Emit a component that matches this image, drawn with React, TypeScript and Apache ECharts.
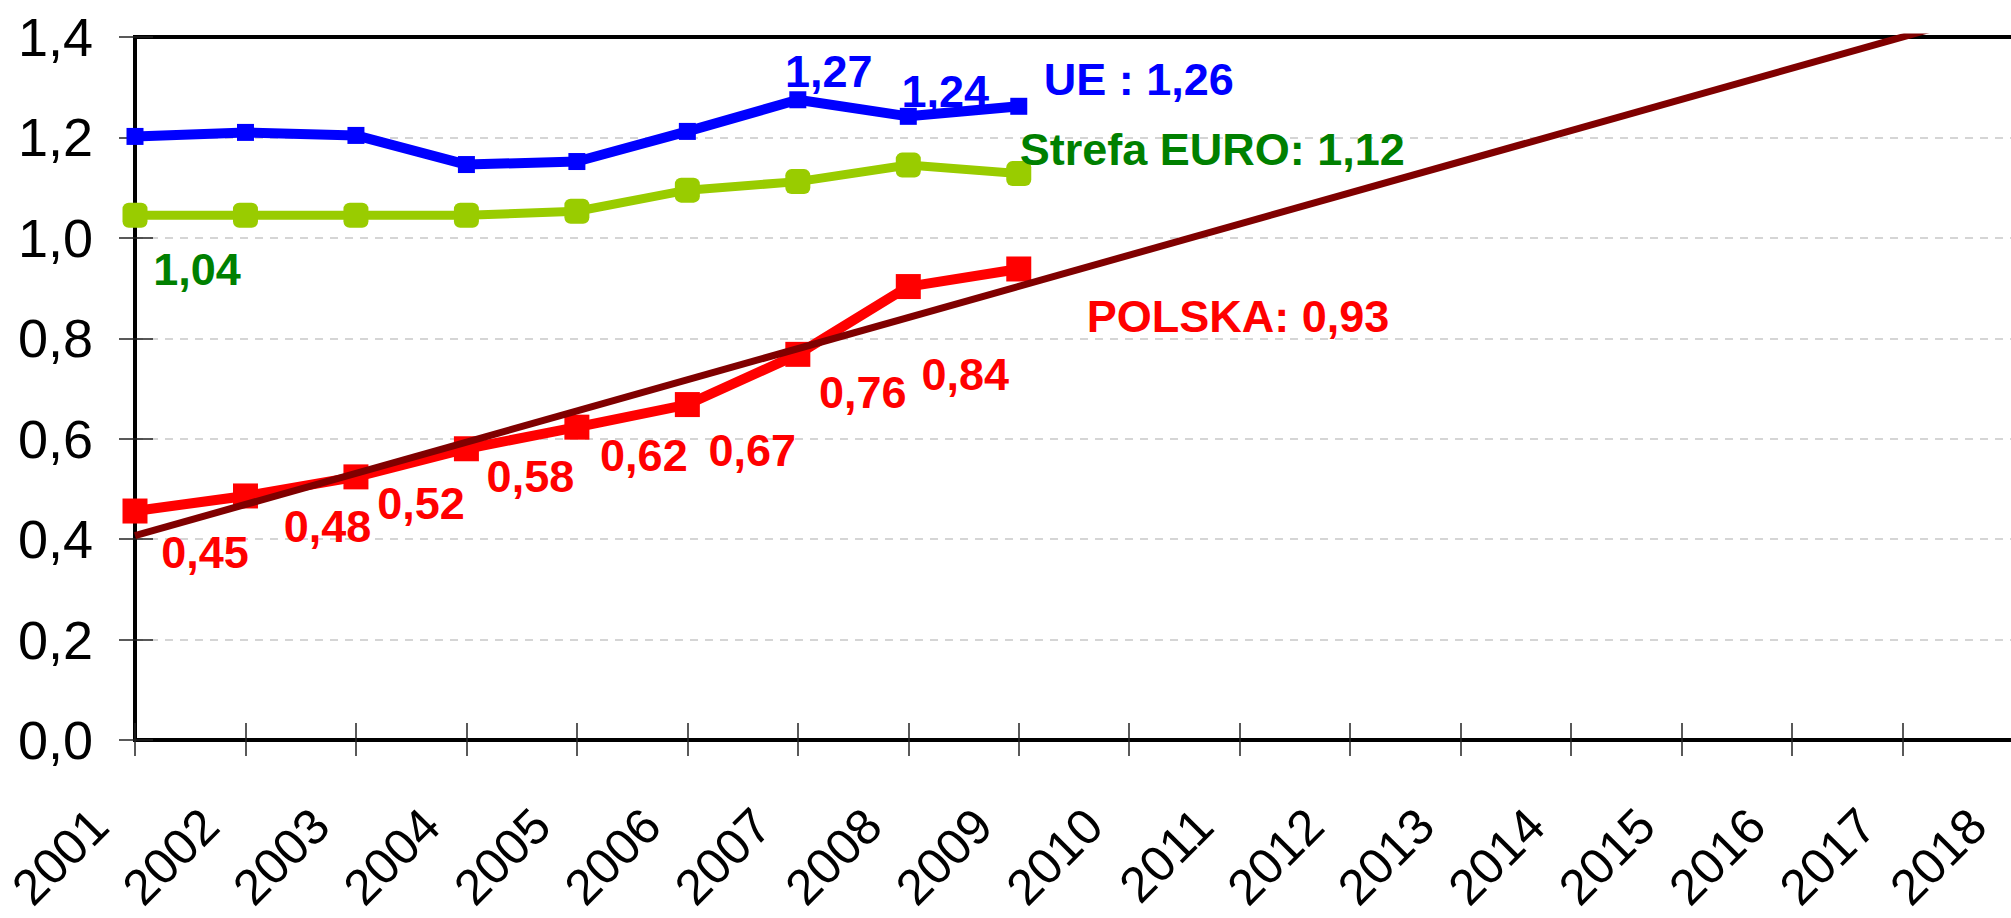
import React, { useEffect, useRef } from "react";
import * as echarts from "echarts";

// ---- data ----
const years = [2001, 2002, 2003, 2004, 2005, 2006, 2007, 2008, 2009];
const ueValues = [1.202, 1.21, 1.204, 1.146, 1.152, 1.212, 1.275, 1.242, 1.262];
const euroValues = [1.045, 1.045, 1.045, 1.045, 1.053, 1.095, 1.112, 1.145, 1.128];
const polValues = [0.456, 0.486, 0.524, 0.58, 0.623, 0.668, 0.768, 0.903, 0.938];
const trendYears = [2001, 2018];
const trendValues = [0.407, 1.462];

const ueLabels = ["", "", "", "", "", "", "1,27", "1,24", "UE : 1,26"];
const euroLabels = ["1,04", "", "", "", "", "", "", "", "Strefa EURO: 1,12"];
const polLabels = ["0,45", "0,48", "0,52", "0,58", "0,62", "0,67", "0,76", "0,84", "POLSKA: 0,93"];

const xMin = 2001;
const xMax = 2018;
const yMin = 0;
const yMax = 1.4;
const yStep = 0.2;

// ---- label layout (pixel offsets from the marker centre) ----
const ueLabelOffsets: [number, number][] = [[0, 0], [0, 0], [0, 0], [0, 0], [0, 0], [0, 0], [31, -28], [37, -25], [25, -27]];
const euroLabelOffsets: [number, number][] = [[62, 54], [0, 0], [0, 0], [0, 0], [0, 0], [0, 0], [0, 0], [0, 0], [1, -24]];
const polLabelOffsets: [number, number][] = [[70, 41], [82, 31], [65, 27], [64, 28], [67, 28], [65, 46], [65, 38], [57, 88], [68, 48]];

const FONT = "Liberation Sans, Arial, sans-serif";

function buildData(values: number[], labels: string[], offsets: [number, number][], color: string) {
  return values.map((v, i) => {
    const text = labels[i];
    const isLast = i === values.length - 1;
    return {
      value: [years[i], v],
      label: {
        show: text !== "",
        formatter: text,
        position: "inside",
        offset: offsets[i],
        align: isLast ? "left" : "center",
        verticalAlign: "middle",
        color,
        fontFamily: FONT,
        fontWeight: "bold",
        fontSize: 45,
      },
    };
  });
}

export default function App() {
  const ref = useRef<HTMLDivElement>(null);
  useEffect(() => {
    if (!ref.current) return;
    const chart = echarts.init(ref.current, null, { renderer: "svg" });
    const option = {
      animation: false,
      backgroundColor: "#ffffff",
      grid: {
        left: 135,
        top: 37,
        right: -2,
        bottom: 178,
        containLabel: false,
        outerBoundsMode: "none",
        show: true,
        borderColor: "#000000",
        borderWidth: 4,
        backgroundColor: "transparent",
      },
      xAxis: [
        {
          type: "value",
          min: xMin,
          max: xMax,
          interval: 1,
          position: "bottom",
          axisLine: { show: true, onZero: false, lineStyle: { color: "#000", width: 4 } },
          axisTick: { show: true, inside: false, length: 16, lineStyle: { color: "#222", width: 1.5 } },
          axisLabel: {
            show: true,
            rotate: 45,
            margin: 42,
            padding: [0, 50, 0, 0],
            color: "#000",
            fontFamily: FONT,
            fontSize: 50,
            formatter: (v: number) => String(v),
          },
          splitLine: { show: false },
        },
        {
          type: "value",
          min: xMin,
          max: xMax,
          interval: 1,
          position: "bottom",
          axisLine: { show: false, onZero: false },
          axisTick: { show: true, inside: true, length: 17, lineStyle: { color: "#222", width: 1.5 } },
          axisLabel: { show: false },
          splitLine: { show: false },
        },
      ],
      yAxis: [
        {
          type: "value",
          min: yMin,
          max: yMax,
          interval: yStep,
          position: "left",
          axisLine: { show: true, onZero: false, lineStyle: { color: "#000", width: 4 } },
          axisTick: { show: true, inside: false, length: 16, lineStyle: { color: "#222", width: 1.5 } },
          axisLabel: {
            show: true,
            margin: 42,
            color: "#000",
            fontFamily: FONT,
            fontSize: 54,
            formatter: (v: number) => v.toFixed(1).replace(".", ","),
          },
          splitLine: {
            show: true,
            showMinLine: false,
            showMaxLine: false,
            lineStyle: { color: "#c8c8c8", width: 1.5, type: [8, 7] },
          },
        },
        {
          type: "value",
          min: yMin,
          max: yMax,
          interval: yStep,
          position: "left",
          axisLine: { show: false, onZero: false },
          axisTick: { show: true, inside: true, length: 18, lineStyle: { color: "#222", width: 1.5 } },
          axisLabel: { show: false },
          splitLine: { show: false },
        },
      ],
      series: [
        {
          name: "UE",
          type: "line",
          xAxisIndex: 0,
          yAxisIndex: 0,
          data: buildData(ueValues, ueLabels, ueLabelOffsets, "#0000ff"),
          symbol: "rect",
          symbolSize: 17,
          showSymbol: true,
          lineStyle: { color: "#0000ff", width: 10 },
          itemStyle: { color: "#0000ff" },
          z: 3,
        },
        {
          name: "Strefa EURO",
          type: "line",
          xAxisIndex: 0,
          yAxisIndex: 0,
          data: buildData(euroValues, euroLabels, euroLabelOffsets, "#008000"),
          symbol: "roundRect",
          symbolSize: 25,
          showSymbol: true,
          lineStyle: { color: "#99cc00", width: 9 },
          itemStyle: { color: "#99cc00" },
          z: 3,
        },
        {
          name: "POLSKA",
          type: "line",
          xAxisIndex: 0,
          yAxisIndex: 0,
          data: buildData(polValues, polLabels, polLabelOffsets, "#ff0000"),
          symbol: "rect",
          symbolSize: 25,
          showSymbol: true,
          lineStyle: { color: "#ff0000", width: 10 },
          itemStyle: { color: "#ff0000" },
          z: 3,
        },
        {
          name: "Trend",
          type: "line",
          xAxisIndex: 0,
          yAxisIndex: 0,
          data: trendYears.map((y, i) => [y, trendValues[i]]),
          symbol: "none",
          clip: true,
          lineStyle: { color: "#800000", width: 7 },
          itemStyle: { color: "#800000" },
          z: 4,
          silent: true,
        },
      ],
    };
    chart.setOption(option as any);
    return () => chart.dispose();
  }, []);
  return (
    <div
      ref={ref}
      style={{ position: "fixed", left: 0, top: 0, width: 2011, height: 918, background: "#fff" }}
    />
  );
}
